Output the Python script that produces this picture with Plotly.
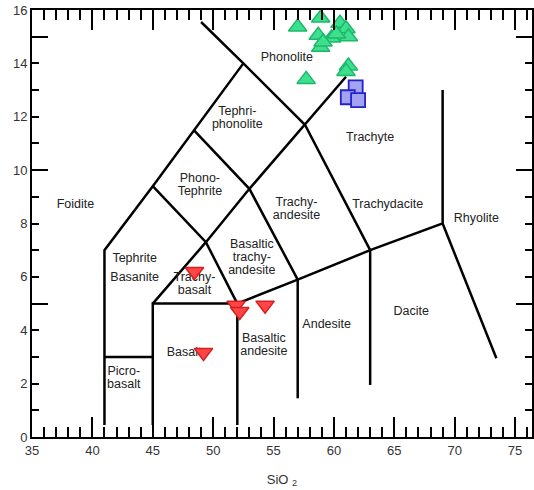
import plotly.graph_objects as go

# Total alkali vs silica (TAS) classification, Le Bas et al. style

# Field boundaries as polylines: (SiO2, Na2O+K2O) vertices
boundaries = [
    [(41, 0.45), (41, 7), (45, 9.4), (48.4, 11.5), (52.5, 14)],
    [(49.0, 15.55), (52.5, 14), (57.6, 11.7), (63, 7)],
    [(41, 3), (45, 3)],
    [(45, 0.45), (45, 5), (52, 5)],
    [(45, 5), (49.4, 7.3), (53, 9.3), (57.6, 11.7), (61, 13.5)],
    [(52, 0.45), (52, 5), (57, 5.9), (63, 7), (69, 8), (69, 13)],
    [(45, 9.4), (49.4, 7.3), (52, 5)],
    [(48.4, 11.5), (53, 9.3), (57, 5.9)],
    [(57, 1.45), (57, 5.9)],
    [(63, 1.95), (63, 7)],
    [(69, 8), (73.45, 2.95)],
]

# Field names and label anchors (centre of each label block)
field_names = ["Foidite", "Phonolite", "Tephri-\nphonolite", "Phono-\nTephrite",
               "Trachyte", "Trachy-\nandesite", "Trachydacite", "Rhyolite",
               "Tephrite", "Basanite", "Basaltic\ntrachy-\nandesite", "Trachy-\nbasalt",
               "Basalt", "Basaltic\nandesite", "Andesite", "Dacite", "Picro-\nbasalt"]
field_x = [38.6, 56.1, 52.0, 48.9, 63.0, 56.9, 64.45, 71.8,
           43.5, 43.5, 53.2, 48.45, 47.6, 54.2, 59.4, 66.4, 42.6]
field_y = [8.69, 14.2, 11.95, 9.44, 11.2, 8.54, 8.69, 8.16,
           6.67, 5.96, 6.7, 5.73, 3.15, 3.45, 4.2, 4.68, 2.2]

# Sample groups
phonolite_sio2 = [57.0, 58.9, 60.5, 58.7, 59.8, 61.0, 61.2, 60.2, 58.9, 59.1, 61.2, 61.0, 57.7]
phonolite_alk = [15.36, 15.7, 15.5, 15.05, 14.95, 15.3, 15.0, 15.1, 14.6, 14.8, 13.9, 13.7, 13.4]

trachyte_sio2 = [61.8, 61.15, 62.0]
trachyte_alk = [13.1, 12.73, 12.62]

basalt_sio2 = [48.45, 51.9, 52.2, 54.3, 49.2]
basalt_alk = [6.2, 4.94, 4.7, 4.94, 3.17]

x_ticks = [35, 40, 45, 50, 55, 60, 65, 70, 75]
y_ticks = [0, 2, 4, 6, 8, 10, 12, 14, 16]
y_major = [5, 10, 15]

FONT = "Liberation Sans, Arial, sans-serif"
LINE_STEP = 0.49  # vertical spacing between stacked label lines (alkali units)

fig = go.Figure()

for line in boundaries:
    fig.add_trace(go.Scatter(
        x=[p[0] for p in line], y=[p[1] for p in line],
        mode="lines", line=dict(color="black", width=2.5),
        hoverinfo="skip", showlegend=False))

# stack each multi-line label with tight leading
lx, ly, lt = [], [], []
for name, x0, y0 in zip(field_names, field_x, field_y):
    parts = name.split("\n")
    n = len(parts)
    for i, part in enumerate(parts):
        lx.append(x0)
        ly.append(y0 + (n - 1) / 2 * LINE_STEP - i * LINE_STEP)
        lt.append(part)

fig.add_trace(go.Scatter(
    x=lx, y=ly, text=lt, mode="text",
    textposition="middle center",
    textfont=dict(family=FONT, size=12.5, color="#222222"),
    hoverinfo="skip", showlegend=False))

fig.add_trace(go.Scatter(
    x=trachyte_sio2, y=trachyte_alk, mode="markers",
    marker=dict(symbol="square", size=14, color="#a3a3f2",
                line=dict(color="#2323cc", width=1.8)),
    showlegend=False))

fig.add_trace(go.Scatter(
    x=phonolite_sio2, y=phonolite_alk, mode="markers",
    marker=dict(symbol="triangle-up", size=16, color="#3de08e",
                line=dict(color="#1db86a", width=1.5)),
    showlegend=False))

fig.add_trace(go.Scatter(
    x=basalt_sio2, y=basalt_alk, mode="markers",
    marker=dict(symbol="triangle-down", size=16, color="#ff4545",
                line=dict(color="#d42020", width=1.5)),
    showlegend=False))

# helper trace so the long-tick overlay axis is rendered
fig.add_trace(go.Scatter(x=[40], y=[-5], yaxis="y2", mode="markers",
                         marker=dict(size=1, opacity=0),
                         showlegend=False, hoverinfo="skip"))

fig.update_layout(
    width=534, height=490,
    margin=dict(l=32, r=0, t=10, b=53),
    paper_bgcolor="white", plot_bgcolor="white",
    font=dict(family=FONT, size=13, color="#333333"),
    xaxis=dict(
        range=[35, 76.4], tickvals=x_ticks, ticks="inside", ticklen=20,
        tickwidth=2, tickcolor="black",
        minor=dict(dtick=1, tick0=35, ticks="inside", ticklen=10,
                   tickwidth=2, tickcolor="black"),
        showline=True, linewidth=2, linecolor="black", mirror="ticks",
        showgrid=False, zeroline=False,
        tickfont=dict(family=FONT, size=13, color="#333333"),
        title=dict(text="SiO <sub>2</sub>", standoff=18,
                   font=dict(family=FONT, size=13, color="#333333")),
    ),
    yaxis=dict(
        range=[0, 16], tickvals=y_ticks, ticks="inside", ticklen=7,
        tickwidth=2, tickcolor="black",
        minor=dict(dtick=1, tick0=0, ticks="inside", ticklen=7,
                   tickwidth=2, tickcolor="black"),
        showline=True, linewidth=2, linecolor="black", mirror="ticks",
        showgrid=False, zeroline=False,
        tickfont=dict(family=FONT, size=13, color="#333333"),
    ),
    yaxis2=dict(
        range=[0, 16], overlaying="y", side="left", tickvals=y_major,
        ticks="inside", ticklen=16, tickwidth=2, tickcolor="black",
        showticklabels=False, showline=False, mirror="ticks",
        showgrid=False, zeroline=False,
    ),
)

fig.write_html("out.html")
